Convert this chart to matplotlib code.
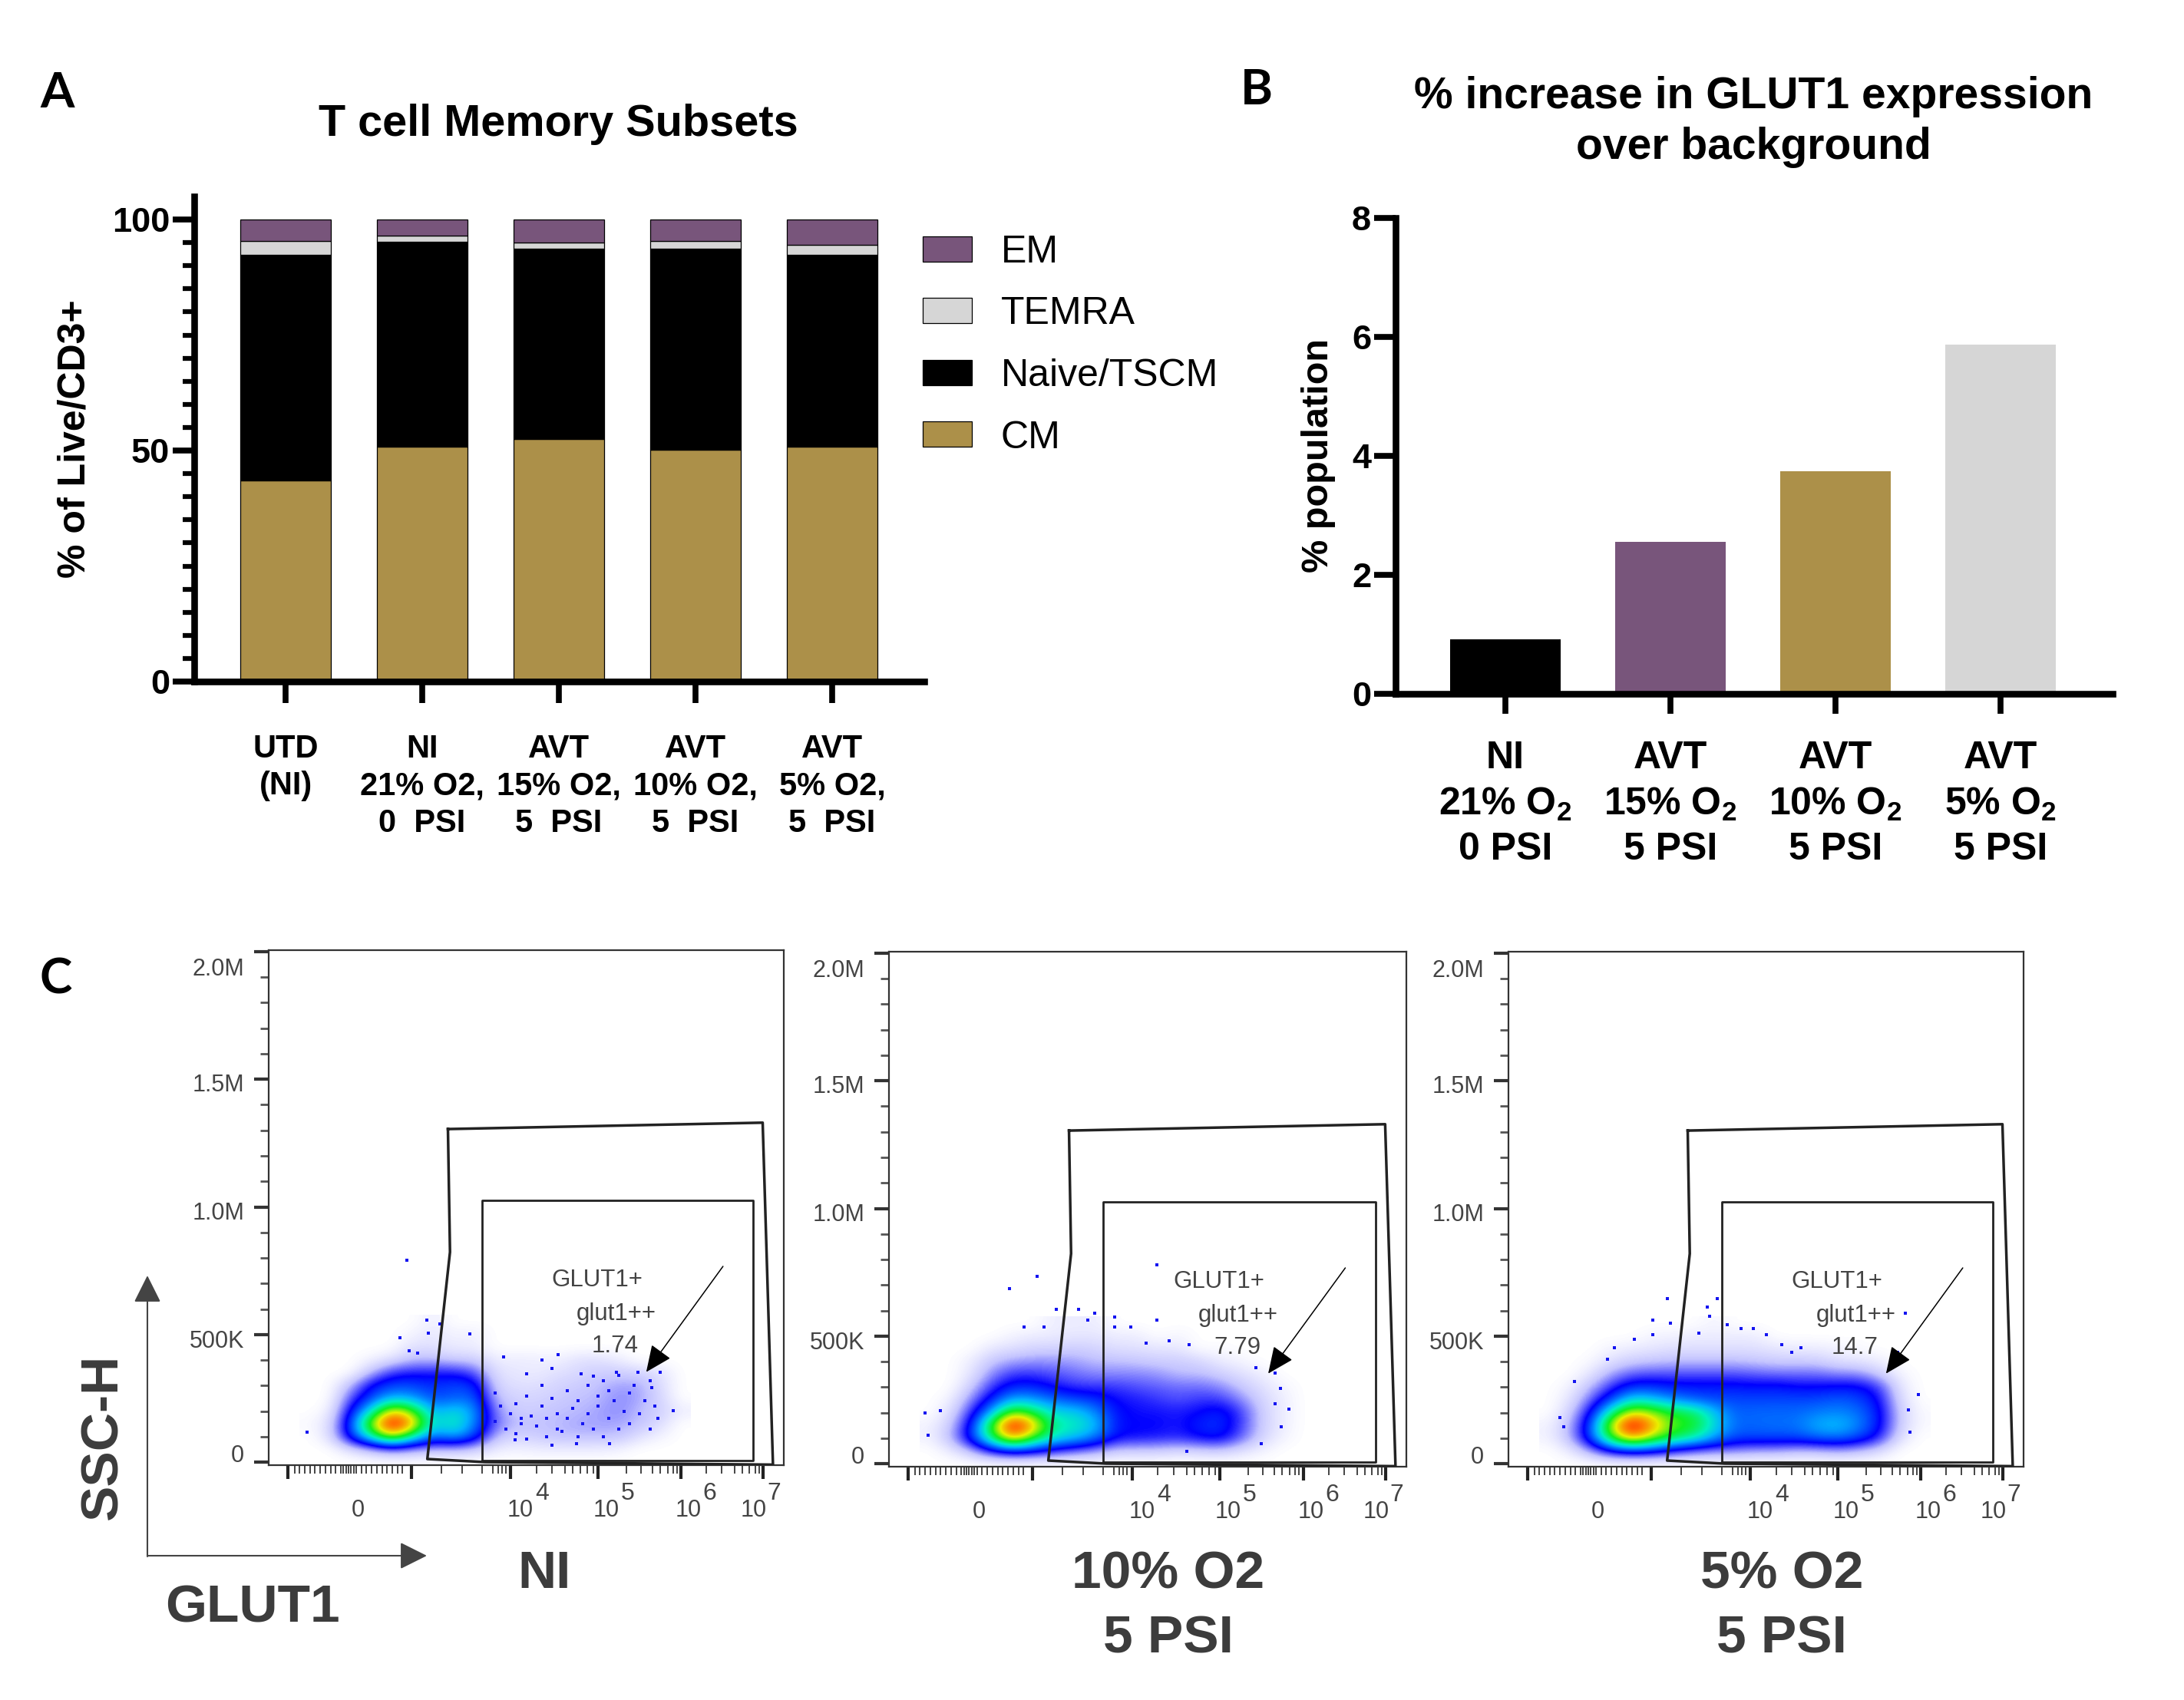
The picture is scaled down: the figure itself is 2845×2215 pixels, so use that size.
import numpy as np
import matplotlib
matplotlib.use('Agg')
import matplotlib.pyplot as plt
from matplotlib.colors import LinearSegmentedColormap
from matplotlib.transforms import Affine2D

W, H = 2845, 2215
plt.rcParams['font.family'] = ['Liberation Sans', 'DejaVu Sans']
plt.rcParams['mathtext.default'] = 'regular'

# panel A
subset_groups = ['UTD\n(NI)', 'NI\n21% O2,\n0  PSI', 'AVT\n15% O2,\n5  PSI', 'AVT\n10% O2,\n5  PSI', 'AVT\n5% O2,\n5  PSI']
cm_vals = [43.5, 50.8, 52.5, 50.2, 50.8]
naive_vals = [48.9, 44.4, 41.2, 43.5, 41.6]
temra_vals = [2.9, 1.3, 1.3, 1.6, 2.1]
em_vals = [4.7, 3.5, 5.0, 4.7, 5.5]

# panel B
glut_groups = ['NI\n21% O$_2$\n0 PSI', 'AVT\n15% O$_2$\n5 PSI', 'AVT\n10% O$_2$\n5 PSI', 'AVT\n5% O$_2$\n5 PSI']
glut_vals = [0.91, 2.56, 3.74, 5.87]

# panel C, gates and density. x is % of the plot width, y is SSC-H in K
outer_gate_x = [34.8, 95.9, 97.9, 42, 30.8, 35.2, 34.8]
outer_gate_y = [1305, 1330, -10, 0, 12, 823, 1305]
inner_gate_x = [41.4, 94, 94, 41.4, 41.4]
inner_gate_y = [5, 5, 1027, 1027, 5]
density_x = [8, 12, 16, 20, 24, 28, 32, 36, 40, 44, 48, 52, 56, 60, 64, 68, 72, 76, 80]
density_y = [550, 500, 450, 400, 350, 300, 250, 200, 150, 100, 50, 0]

density_ni = [
    [0, 0, 0, 0, 0, 0, .03, 0, 0, 0, 0, 0, 0, 0, 0, 0, 0, 0, 0],
    [0, 0, 0, 0, 0, .02, .04, .02, .03, 0, 0, 0, 0, 0, 0, 0, 0, 0, 0],
    [0, 0, 0, 0, 0, .05, .05, .03, .03, 0, 0, 0, 0, 0, 0, 0, 0, 0, 0],
    [0, 0, 0, .02, .05, .1, .1, .08, .08, .03, .03, .03, .02, .05, .05, .03, 0, 0, 0],
    [0, 0, 0, .1, .2, .22, .22, .22, .18, .05, .04, .03, .05, .06, .08, .08, .07, .05, 0],
    [0, 0, .1, .25, .3, .3, .27, .3, .28, .07, .05, .05, .07, .08, .1, .12, .12, .06, 0],
    [0, 0, .18, .3, .4, .38, .3, .32, .33, .1, .07, .07, .08, .1, .1, .14, .12, .07, 0],
    [0, .02, .25, .45, .75, .62, .38, .45, .38, .14, .08, .08, .1, .1, .12, .14, .1, .08, .03],
    [.01, .05, .3, .68, 1, .8, .42, .5, .36, .16, .1, .1, .1, .12, .12, .12, .1, .06, 0],
    [0, .05, .28, .5, .72, .5, .33, .4, .3, .1, .07, .08, .1, .1, .1, .1, .05, .02, 0],
    [0, 0, .05, .1, .15, .12, .1, .1, .08, .03, .02, .03, .03, .03, .03, .02, 0, 0, 0],
    [0, 0, 0, 0, 0, 0, 0, 0, 0, 0, 0, 0, 0, 0, 0, 0, 0, 0, 0],
]
density_10 = [
    [0, 0, 0, 0, 0, 0, .03, .03, .03, 0, 0, 0, 0, 0, 0, 0, 0, 0, 0],
    [0, 0, 0, 0, .02, .03, .03, .04, .04, .03, .03, 0, .02, 0, 0, 0, 0, 0, 0],
    [0, 0, 0, .04, .05, .07, .07, .08, .07, .05, .05, .04, .04, 0, .01, 0, 0, 0, 0],
    [0, 0, .03, .09, .12, .13, .13, .12, .1, .1, .09, .08, .08, .07, .03, .02, 0, 0, 0],
    [0, 0, .04, .14, .2, .2, .18, .16, .14, .14, .14, .13, .1, .1, .08, .05, .03, 0, 0],
    [0, 0, .08, .2, .27, .27, .23, .2, .2, .2, .18, .17, .16, .16, .14, .09, .05, .02, 0],
    [0, .02, .14, .27, .4, .38, .33, .3, .28, .23, .22, .2, .18, .2, .2, .14, .07, .03, 0],
    [0, .05, .2, .4, .66, .56, .44, .44, .36, .25, .23, .23, .22, .24, .27, .2, .08, .03, 0],
    [.02, .08, .26, .62, 1, .78, .5, .48, .42, .25, .24, .24, .22, .27, .28, .2, .08, .03, 0],
    [.02, .1, .28, .55, .8, .6, .46, .42, .34, .24, .23, .22, .21, .24, .26, .17, .07, .02, 0],
    [0, .03, .1, .22, .28, .25, .2, .16, .13, .08, .08, .08, .06, .07, .08, .05, .02, 0, 0],
    [0, 0, 0, 0, 0, 0, 0, 0, 0, 0, 0, 0, 0, 0, 0, 0, 0, 0, 0],
]
density_5 = [
    [0, 0, 0, 0, 0, 0, 0, 0, .02, 0, 0, 0, 0, 0, 0, 0, 0, 0, 0],
    [0, 0, 0, 0, 0, .02, .02, .03, .03, .03, .03, 0, 0, 0, 0, 0, 0, 0, 0],
    [0, 0, 0, .02, .03, .04, .05, .05, .05, .05, .05, .04, .03, .03, .02, .01, 0, 0, 0],
    [0, 0, .01, .05, .08, .09, .1, .1, .1, .1, .09, .08, .08, .08, .05, .04, .03, 0, 0],
    [0, 0, .04, .12, .17, .18, .18, .18, .18, .18, .17, .16, .16, .16, .14, .14, .08, .02, 0],
    [0, .02, .1, .2, .28, .28, .26, .26, .26, .26, .25, .26, .24, .24, .25, .25, .2, .04, 0],
    [0, .04, .16, .3, .45, .42, .36, .32, .3, .3, .3, .3, .3, .3, .32, .3, .24, .06, 0],
    [0, .07, .24, .5, .72, .66, .58, .55, .42, .32, .33, .33, .33, .35, .36, .34, .26, .08, .01],
    [.02, .1, .3, .7, 1, .8, .62, .6, .45, .33, .33, .34, .34, .4, .42, .36, .26, .08, .01],
    [.02, .1, .3, .6, .8, .66, .56, .5, .38, .3, .3, .3, .3, .33, .34, .3, .22, .05, 0],
    [0, .03, .12, .24, .28, .26, .2, .16, .14, .14, .12, .12, .1, .1, .12, .1, .06, 0, 0],
    [0, 0, 0, 0, 0, 0, 0, 0, 0, 0, 0, 0, 0, 0, 0, 0, 0, 0, 0],
]

dots_ni_x = [26.8, 7.5, 30.7, 33.2, 31, 39, 25.5, 27.2, 28.9, 45.6, 53, 56.2, 55, 50, 60.6, 63, 67.5, 71.7, 76, 78.6,
             74.3, 75.6, 66.2, 59.8, 55, 47.8, 44, 45, 44, 46, 47, 48, 48, 49, 49, 50, 50, 51, 52, 53, 53, 54, 54, 55,
             56, 56, 57, 58, 58, 59, 60, 60, 61, 62, 62, 63, 64, 64, 65, 65, 66, 66, 67, 68, 68, 69, 70, 70, 71, 72,
             73, 74, 74, 75]
dots_ni_y = [792, 118, 557, 542, 505, 501, 486, 436, 428, 413, 401, 421, 368, 345, 345, 338, 353, 353, 353, 201,
             292, 171, 73, 73, 65, 88, 270, 220, 160, 130, 190, 230, 110, 150, 170, 260, 90, 180, 140, 220, 300, 100, 170, 250,
             190, 130, 120, 280, 170, 210, 100, 240, 150, 300, 190, 130, 260, 220, 320, 100, 170, 280, 240, 130, 340, 200, 270, 150, 300, 190,
             240, 130, 320, 220]
dots_10_x = [51.8, 28.7, 23.3, 32.3, 36.6, 39.7, 43.6, 51.8, 38.5, 26.1, 30, 46.7, 43.6, 7, 7.6, 10, 77.3, 75.6, 74.7, 70.9,
             58, 54.2, 49.7, 75.8, 74.7, 57.6, 72]
dots_10_y = [779, 734, 685, 605, 605, 588, 574, 561, 561, 535, 535, 535, 535, 199, 111, 207, 213, 295, 354, 377,
             465, 482, 471, 143, 236, 49, 78]
dots_5_x = [30.8, 40.5, 38.6, 39, 77, 28, 31.4, 42.4, 45.2, 47.6, 28, 37, 24.5, 20.6, 19.2, 50, 53, 56.8, 55, 12.8,
            10, 10.7, 79.6, 77.7, 78, 75.5]
dots_5_y = [648, 648, 615, 577, 589, 561, 551, 544, 530, 530, 504, 512, 488, 453, 409, 506, 465, 453, 435, 323,
            181, 145, 270, 210, 122, 435]

pop_pct = ['1.74', '7.79', '14.7']
panel_titles = ['NI', '10% O2\n5 PSI', '5% O2\n5 PSI']

tan = '#AC9049'
purple = '#78557B'
light = '#D6D6D6'
ink = '#444444'


def px_axes(fig, left, top, right, bottom):
    return fig.add_axes([left / W, 1 - bottom / H, (right - left) / W, (bottom - top) / H])


def ftext(fig, x, y, s, **kw):
    kw.setdefault('ha', 'center')
    kw.setdefault('va', 'center')
    return fig.text(x / W, 1 - y / H, s, **kw)


fig = plt.figure(figsize=(W / 100, H / 100), dpi=100, facecolor='white')

# A: stacked bars
ax = px_axes(fig, 253, 256, 1204, 888)
pos = np.arange(len(subset_groups))
bottom = np.zeros(len(pos))
bars = []
for vals, col, lab in [(cm_vals, tan, 'CM'), (naive_vals, 'black', 'Naive/TSCM'),
                       (temra_vals, light, 'TEMRA'), (em_vals, purple, 'EM')]:
    bars.append(ax.bar(pos, vals, 0.663, bottom=bottom, color=col, edgecolor='black', linewidth=0.9, label=lab))
    bottom = bottom + np.array(vals)
ax.set_xlim(-0.669, 4.674)
ax.set_ylim(0, 105)
for s in ['top', 'right']:
    ax.spines[s].set_visible(False)
for s in ['left', 'bottom']:
    ax.spines[s].set_linewidth(6.2)
ax.set_yticks([0, 50, 100])
ax.set_yticks(np.arange(0, 105, 5), minor=True)
ax.tick_params(axis='y', which='major', length=20, width=5.5, labelsize=32.5, pad=3)
ax.tick_params(axis='y', which='minor', length=11, width=4.5)
ax.set_xticks(pos)
ax.set_xticklabels(subset_groups, fontsize=30, fontweight='bold', linespacing=1.27)
ax.tick_params(axis='x', length=20, width=5.5, pad=29)
for lb in ax.get_yticklabels():
    lb.set_fontweight('bold')
leg = fig.legend(bars[::-1], ['EM', 'TEMRA', 'Naive/TSCM', 'CM'], loc='upper left',
                 bbox_to_anchor=(1202 / W, 1 - 306 / H), frameon=False, fontsize=36, borderpad=0, borderaxespad=0,
                 handlelength=1.28, handleheight=0.64, handletextpad=0.75, labelspacing=0.69)
ftext(fig, 727, 162, 'T cell Memory Subsets', fontsize=41.5, fontweight='bold')
ftext(fig, 98, 572, '% of Live/CD3+', fontsize=36, fontweight='bold', rotation=90)

# B: bars
ax = px_axes(fig, 1818, 284, 2752, 904)
pos = np.arange(len(glut_groups))
ax.bar(pos, glut_vals, 0.67, color=['black', purple, tan, light])
ax.set_xlim((1818 - 1961) / 215, (2752 - 1961) / 215)
ax.set_ylim(0, 8)
for s in ['top', 'right']:
    ax.spines[s].set_visible(False)
for s in ['left', 'bottom']:
    ax.spines[s].set_linewidth(6.2)
ax.set_yticks([0, 2, 4, 6, 8])
ax.tick_params(axis='y', length=20, width=5.5, labelsize=32.5, pad=3)
for lb in ax.get_yticklabels():
    lb.set_fontweight('bold')
ax.set_xticks(pos)
ax.set_xticklabels(glut_groups, fontsize=36, fontweight='bold', linespacing=1.33)
ax.tick_params(axis='x', length=19, width=5.5, pad=25)
ftext(fig, 2284, 126, '% increase in GLUT1 expression', fontsize=41, fontweight='bold')
ftext(fig, 2284, 192, 'over background', fontsize=41, fontweight='bold')
ftext(fig, 1718, 594, '% population', fontsize=35, fontweight='bold', rotation=90)

# C: flow plots
facs = LinearSegmentedColormap.from_list('facs', [
    (0, 'white'), (0.1, '#C4C4FF'), (0.25, '#0000FF'), (0.42, '#00B4FF'), (0.5, '#00F0C0'), (0.62, '#10F020'),
    (0.75, '#E8F000'), (0.87, '#FF7800'), (1, '#FF0000')])
x_major = [3.7, 27.7, 47, 64, 80.1, 96]
x_minor = [5, 6, 7, 8, 9, 10, 11, 12, 13, 14, 14.5, 15, 15.5, 16, 16.5, 17, 18, 19, 20, 21, 22, 23, 24, 25, 26,
           33.6, 37.5, 41.4, 43.5, 44.5, 45.3, 46,
           52, 55, 57.5, 59, 60.5, 61.8, 63, 69.5, 72.3, 74.5, 76, 77.5, 78.5, 79.3, 85, 88, 90.5, 92, 93.3, 94.5, 95.3]
y_label_shift = [12, -6, -5, -4, -20]
boxes = [(350, 1238, 1021, 1909), (1158, 1240, 1832, 1911), (1965, 1240, 2636, 1911)]
grids = [density_ni, density_10, density_5]
dots = [(dots_ni_x, dots_ni_y), (dots_10_x, dots_10_y), (dots_5_x, dots_5_y)]
title_x = [709, 1522, 2321]

for i, box in enumerate(boxes):
    ax = px_axes(fig, *box)
    ax.imshow(np.array(grids[i]), cmap=facs, vmin=0, vmax=0.95, aspect='auto', interpolation='bicubic',
              extent=(density_x[0] - 2, density_x[-1] + 2, density_y[-1] - 25, density_y[0] + 25), zorder=1)
    ax.scatter(dots[i][0], dots[i][1], s=8, marker='s', color='#1414F0', linewidths=0, zorder=2)
    ax.plot(outer_gate_x, outer_gate_y, color='#222222', lw=2.5, zorder=3)
    ax.plot(inner_gate_x, inner_gate_y, color='#222222', lw=2.0, zorder=3)
    ax.set_xlim(0, 100)
    ax.set_ylim(-12, 2006)
    for s in ax.spines.values():
        s.set_linewidth(1.6)
        s.set_color('#333333')
    ax.set_yticks([0, 500, 1000, 1500, 2000])
    ax.set_yticklabels(['0', '500K', '1.0M', '1.5M', '2.0M'], fontsize=22, color=ink)
    ax.set_yticks(np.arange(0, 2000, 100), minor=True)
    ax.tick_params(axis='y', which='major', length=14, width=3, color='#333333', pad=9)
    ax.tick_params(axis='y', which='minor', length=8, width=2, color='#555555')
    for lb, dy in zip(ax.get_yticklabels(), y_label_shift):
        lb.set_transform(lb.get_transform() + Affine2D().translate(0, dy))
    ax.set_xticks(x_major)
    ax.set_xticklabels([])
    ax.set_xticks(x_minor, minor=True)
    ax.tick_params(axis='x', which='major', length=13, width=3, color='#222222')
    ax.tick_params(axis='x', which='minor', length=8, width=1.4, color='#444444')
    ax.text(63.8, 712, 'GLUT1+', fontsize=22.5, color=ink, ha='center', va='center', zorder=4)
    ax.text(67.4, 580, 'glut1++', fontsize=22.5, color=ink, ha='center', va='center', zorder=4)
    ax.text(67.3, 455, pop_pct[i], fontsize=22.5, color=ink, ha='center', va='center', zorder=4)
    ax.annotate('', xy=(73.3, 353), xytext=(88.2, 767), zorder=5,
                arrowprops=dict(arrowstyle='-|>,head_length=0.9,head_width=0.4', color='black', lw=1.1,
                                mutation_scale=24, shrinkA=0, shrinkB=0))
    ax.text(17.4, -190, '0', fontsize=22, color=ink, ha='center', va='center', clip_on=False)
    for tx, sx, pw in zip([48.9, 65.6, 81.5, 94.2], [53.1, 69.7, 85.6, 98.1], ['4', '5', '6', '7']):
        ax.text(tx, -190, '10', fontsize=22, color=ink, ha='center', va='center', clip_on=False)
        ax.text(sx, -122, pw, fontsize=23, color=ink, ha='center', va='center', clip_on=False)
    for j, line in enumerate(panel_titles[i].split('\n')):
        ftext(fig, title_x[i], 2051 + 84 * j, line, fontsize=50, fontweight='bold', color='#3C3C3C')

# axis key for the flow plots
key = fig.add_axes([0, 0, 1, 1], facecolor='none')
key.set_xlim(0, W)
key.set_ylim(H, 0)
key.axis('off')
key.annotate('', xy=(192, 1662), xytext=(192, 2028),
             arrowprops=dict(arrowstyle='-|>,head_length=1.0,head_width=0.5', color=ink, lw=1.5, mutation_scale=22,
                             shrinkA=0, shrinkB=0))
key.annotate('', xy=(556, 2027), xytext=(192, 2027),
             arrowprops=dict(arrowstyle='-|>,head_length=1.0,head_width=0.5', color=ink, lw=1.5, mutation_scale=22,
                             shrinkA=0, shrinkB=0))
ftext(fig, 134, 1872, 'SSC-H', fontsize=50, fontweight='bold', color='#3C3C3C', rotation=90)
ftext(fig, 329, 2095, 'GLUT1', fontsize=50, fontweight='bold', color='#3C3C3C')

for lab, x, y in [('A', 75, 122), ('B', 1637, 118), ('C', 73, 1276)]:
    ftext(fig, x, y, lab, fontsize=46, fontweight='bold', family='Lato')

fig.savefig('out.png', dpi=100, facecolor='white')
